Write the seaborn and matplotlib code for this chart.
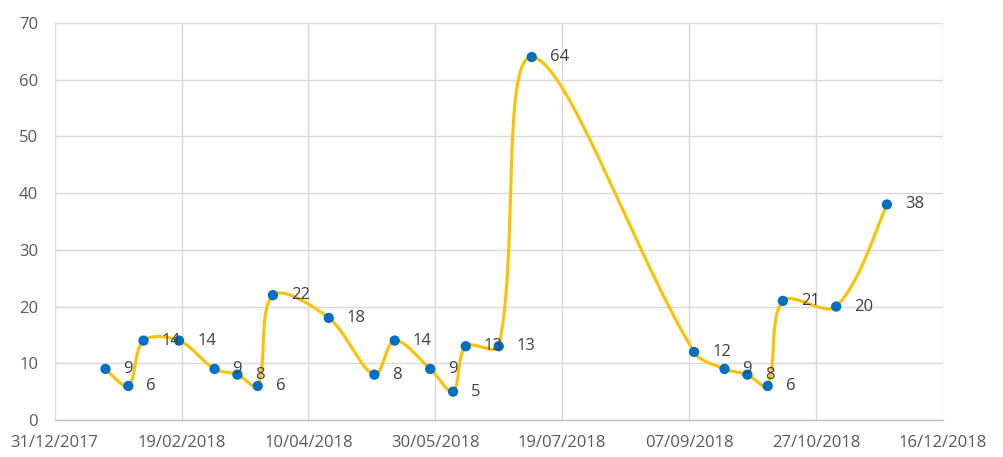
import numpy as np
import pandas as pd
import matplotlib
matplotlib.use("Agg")
import matplotlib.pyplot as plt
import matplotlib.dates as mdates
import seaborn as sns

# Sample dates and counts
dates = ["2018-01-20", "2018-01-29", "2018-02-04", "2018-02-18", "2018-03-04",
         "2018-03-13", "2018-03-21", "2018-03-27", "2018-04-18", "2018-05-06",
         "2018-05-14", "2018-05-28", "2018-06-06", "2018-06-11", "2018-06-24",
         "2018-07-07", "2018-09-09", "2018-09-21", "2018-09-30", "2018-10-08",
         "2018-10-14", "2018-11-04", "2018-11-24"]
values = [9, 6, 14, 14, 9, 8, 6, 22, 18, 8, 14, 9, 5, 13, 13, 64,
          12, 9, 8, 6, 21, 20, 38]
x_start, x_end = "2017-12-31", "2018-12-16"
y_ticks = [0, 10, 20, 30, 40, 50, 60, 70]

sns.set_theme(style="white")
plt.rcParams["font.family"] = ["Open Sans", "DejaVu Sans"]

df = pd.DataFrame({"date": pd.to_datetime(dates), "value": values})
df["x"] = mdates.date2num(df["date"])

fig = plt.figure(figsize=(10.04, 4.57), dpi=100)
ax = fig.add_axes([0.0545, 0.081, 0.8845, 0.8687])

x0 = mdates.date2num(pd.Timestamp(x_start))
x1 = mdates.date2num(pd.Timestamp(x_end))
ax.set_xlim(x0, x1)
ax.set_ylim(0, 70)

# Smoothed line: cubic Bezier segments built in screen space; the tangent at
# each point follows its neighbours, split according to the adjacent segment lengths
fig.canvas.draw()
pts = ax.transData.transform(np.column_stack([df["x"], df["value"]]))
n = len(pts)
seg_len = np.linalg.norm(np.diff(pts, axis=0), axis=1)
tangents = np.zeros_like(pts)
out_w = np.zeros(n)
in_w = np.zeros(n)
for i in range(n):
    prev = pts[i - 1] if i > 0 else pts[i]
    nxt = pts[i + 1] if i + 1 < n else pts[i]
    tangents[i] = nxt - prev
    d_prev = seg_len[i - 1] if i > 0 else 0.0
    d_next = seg_len[i] if i + 1 < n else 0.0
    tot = d_prev + d_next
    out_w[i] = (d_next / tot if tot > 0 else 0.5) * 2 / 3 * 0.5
    in_w[i] = (d_prev / tot if tot > 0 else 0.5) * 2 / 3 * 0.5
    if i == 0:
        out_w[i] = 1 / 6
    if i == n - 1:
        in_w[i] = 1 / 6

curve = []
t = np.linspace(0, 1, 40)[:, None]
for i in range(n - 1):
    p0 = pts[i]
    p3 = pts[i + 1]
    c1 = p0 + tangents[i] * out_w[i]
    c2 = p3 - tangents[i + 1] * in_w[i + 1]
    seg = ((1 - t) ** 3) * p0 + 3 * ((1 - t) ** 2) * t * c1 + 3 * (1 - t) * t ** 2 * c2 + t ** 3 * p3
    curve.append(seg if i == 0 else seg[1:])
curve = np.vstack(curve)
smooth = ax.transData.inverted().transform(curve)
smooth_df = pd.DataFrame({"x": smooth[:, 0], "y": smooth[:, 1]})

sns.lineplot(data=smooth_df, x="x", y="y", sort=False, estimator=None,
             color="#FFC000", linewidth=2.2, ax=ax, zorder=3)
sns.scatterplot(data=df, x="x", y="value", color="#0070C0", s=55,
                edgecolor="none", ax=ax, zorder=4)

for xv, yv in zip(df["x"], df["value"]):
    ax.annotate(str(yv), (xv, yv), xytext=(13, 0), textcoords="offset points",
                ha="left", va="center", fontsize=12, color="#404040", zorder=5)

ax.set_xticks(np.arange(x0, x1 + 1, 50))
ax.xaxis.set_major_formatter(mdates.DateFormatter("%d/%m/%Y"))
ax.set_yticks(y_ticks)
ax.grid(True, color="#d9d9d9", linewidth=1.0)
ax.set_axisbelow(True)
for side in ["top", "right", "left"]:
    ax.spines[side].set_visible(False)
ax.spines["bottom"].set_color("#bfbfbf")
ax.spines["bottom"].set_linewidth(1.0)
ax.tick_params(axis="both", length=0, labelsize=12, labelcolor="#595959")
ax.tick_params(axis="y", pad=12)
ax.tick_params(axis="x", pad=11)
ax.set_xlabel("")
ax.set_ylabel("")

fig.savefig("out.png", dpi=100, facecolor="white")
